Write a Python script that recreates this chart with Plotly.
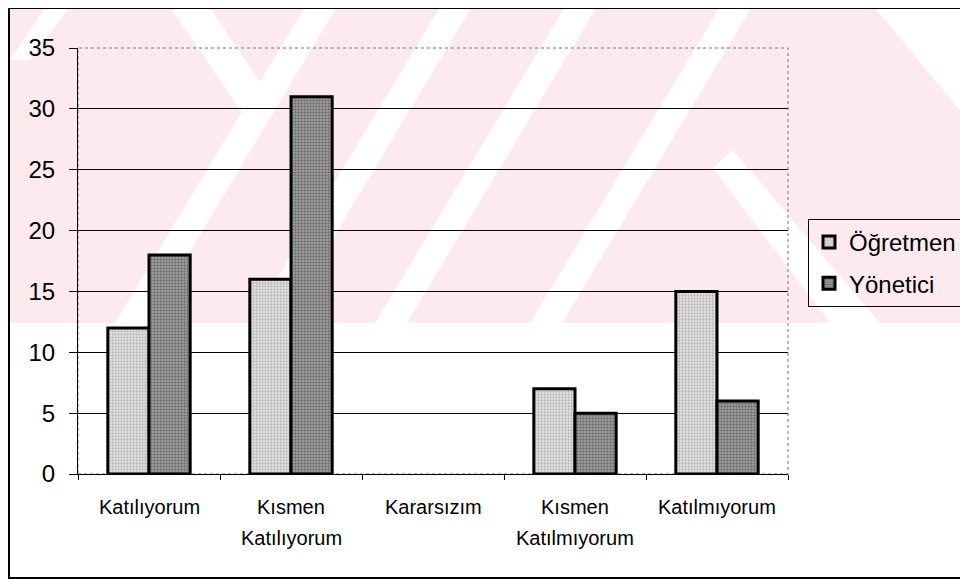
import plotly.graph_objects as go

# Chart data
categories = ["Katılıyorum", "Kısmen Katılıyorum", "Kararsızım", "Kısmen Katılmıyorum", "Katılmıyorum"]
label_lines = [["Katılıyorum"], ["Kısmen", "Katılıyorum"], ["Kararsızım"], ["Kısmen", "Katılmıyorum"], ["Katılmıyorum"]]
ogretmen = [12, 16, 0, 7, 15]
yonetici = [18, 31, 0, 5, 6]
y_ticks = [0, 5, 10, 15, 20, 25, 30, 35]

# the page puts the figure 8px in from the window edge
OFF = 8
W, H = 968 - OFF, 579 - OFF
L, R, T, B = 78, 788, 48, 474   # plot area, in window pixels


def px(x, y):
    """window pixel -> paper coords"""
    return (x - L) / (R - L), (B - y) / (B - T)


def poly(points, color):
    pts = [px(x, y) for x, y in points]
    d = "M " + " L ".join(f"{a:.4f},{b:.4f}" for a, b in pts) + " Z"
    return dict(type="path", path=d, xref="paper", yref="paper",
                fillcolor=color, line=dict(width=0), layer="below")


def outline(vals):
    # no outline on empty bars
    return [3 if v > 0 else 0 for v in vals]


fig = go.Figure()

fig.add_trace(go.Bar(
    x=categories, y=ogretmen, name="Öğretmen", legendgroup="a",
    marker=dict(color="#d6d6d6", line=dict(color="black", width=outline(ogretmen)),
                pattern=dict(shape=".", bgcolor="#e4e4e4", fgcolor="#8c8c8c", size=3, solidity=0.45)),
))
fig.add_trace(go.Bar(
    x=categories, y=yonetici, name="Yönetici", legendgroup="b",
    marker=dict(color="#8a8a8a", line=dict(color="black", width=outline(yonetici)),
                pattern=dict(shape=".", bgcolor="#a6a6a6", fgcolor="#383838", size=3, solidity=0.5)),
))

# background watermark (pale pink with white diagonal cuts)
pink = "#fdeaee"
shapes = [poly([(10, 8), (875, 8), (968, 120), (968, 323), (10, 323)], pink)]
white_cuts = [
    [(165, 0), (205, 0), (272, 100), (250, 124)],      # short "\" cut, left
    [(713, 168), (733, 150), (880, 323), (830, 323)],   # long "\" cut, right
    [(50, 0), (75, 0), (30, 60), (10, 60)],
]
for b in [115, 250, 375, 530]:
    white_cuts.append([(b, 323), (b + 32, 323), (b + 32 + 194, 0), (b + 194, 0)])
for c in white_cuts:
    shapes.append(poly(c, "white"))

# dotted plot-area border
shapes.append(dict(type="rect", xref="paper", yref="paper", x0=0, y0=0, x1=1, y1=1,
                   line=dict(color="#777", width=1, dash="dot"), layer="below"))
# outer frame
x0, y0 = px(9, 578)
x1, y1 = px(965, 8)
shapes.append(dict(type="rect", xref="paper", yref="paper", x0=x0, y0=y0, x1=x1, y1=y1,
                   line=dict(color="black", width=2)))

# category labels (two lines where needed)
annotations = []
for cat, lines in zip(categories, label_lines):
    for i, line in enumerate(lines):
        annotations.append(dict(x=cat, xref="x", y=px(0, 507 + 31 * i)[1], yref="paper",
                                text=line, showarrow=False, yanchor="middle",
                                font=dict(family="Liberation Sans, Arial", size=20, color="black")))

fig.update_layout(
    width=W, height=H,
    margin=dict(l=L - OFF, r=968 - R, t=T - OFF, b=579 - B, autoexpand=False),
    paper_bgcolor="white", plot_bgcolor="rgba(0,0,0,0)",
    barmode="group", bargap=0.42, bargroupgap=0,
    font=dict(family="Liberation Sans, Arial", color="black"),
    shapes=shapes, annotations=annotations,
    showlegend=True,
    legend=dict(x=px(808, 0)[0], y=px(0, 219)[1], xanchor="left", yanchor="top",
                bordercolor="black", borderwidth=1, bgcolor="rgba(255,255,255,0)",
                font=dict(size=24), tracegroupgap=7, itemwidth=30),
)
fig.update_xaxes(showline=True, linecolor="black", linewidth=1, ticks="outside", tickson="boundaries",
                 ticklen=5, tickcolor="black", showticklabels=False, showgrid=False)
fig.update_yaxes(range=[0, 35], tickvals=y_ticks, showgrid=True, gridcolor="black", gridwidth=1,
                 showline=True, linecolor="black", linewidth=1, ticks="outside", ticklen=8,
                 tickcolor="black", tickfont=dict(size=24), ticklabelstandoff=9, zeroline=False)

fig.write_html("out.html")
